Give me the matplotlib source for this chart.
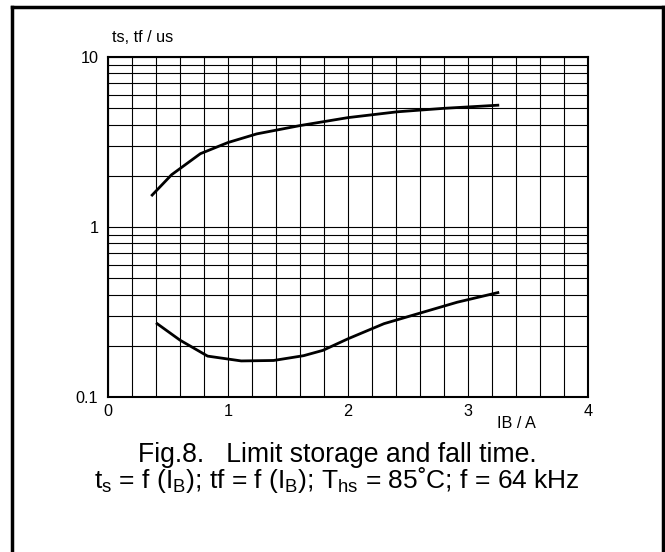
import matplotlib
matplotlib.use("Agg")
import matplotlib.pyplot as plt
from matplotlib.ticker import FixedLocator, LogLocator, NullFormatter
from matplotlib.lines import Line2D

plt.rcParams['font.family'] = ['Liberation Sans', 'DejaVu Sans']
plt.rcParams['mathtext.fontset'] = 'custom'
plt.rcParams['mathtext.rm'] = 'Liberation Sans'
plt.rcParams['mathtext.it'] = 'Liberation Sans'

# Data
ib_ts = [0.36, 0.53, 0.77, 1.0, 1.24, 1.6, 2.0, 2.41, 2.8, 3.26]
ts = [1.52, 2.03, 2.70, 3.14, 3.53, 3.95, 4.40, 4.76, 4.99, 5.21]
ib_tf = [0.40, 0.60, 0.83, 1.11, 1.38, 1.63, 1.79, 2.0, 2.30, 2.63, 2.91, 3.26]
tf = [0.273, 0.216, 0.174, 0.163, 0.164, 0.175, 0.188, 0.220, 0.270, 0.316, 0.361, 0.413]
x_ticks = [0, 1, 2, 3, 4]
x_ticklabels = ["0", "1", "2", "3", "4"]
y_ticks = [0.1, 1, 10]
y_ticklabels = ["0.1", "1", "10"]

W, H = 665, 552
fig = plt.figure(figsize=(W / 100, H / 100), dpi=100)

# outer frame
frame_kw = dict(color='black', lw=2.5, transform=fig.transFigure, clip_on=False)
fig.add_artist(Line2D([12 / W, 12 / W], [0, 1 - 7 / H], **frame_kw))
fig.add_artist(Line2D([12 / W, 663 / W], [1 - 7 / H, 1 - 7 / H], **frame_kw))
fig.add_artist(Line2D([663 / W, 663 / W], [0, 1 - 7 / H], **frame_kw))

ax = fig.add_axes([108 / W, 1 - 397 / H, 480 / W, 340 / H])
ax.set_yscale('log')
ax.set_xlim(0, 4)
ax.set_ylim(0.1, 10)

ax.xaxis.set_major_locator(FixedLocator(x_ticks))
ax.set_xticklabels(x_ticklabels)
ax.xaxis.set_minor_locator(FixedLocator([i * 0.2 for i in range(21)]))
ax.yaxis.set_major_locator(FixedLocator(y_ticks))
ax.set_yticklabels(y_ticklabels)
ax.yaxis.set_minor_locator(LogLocator(base=10, subs=range(2, 10)))
ax.yaxis.set_minor_formatter(NullFormatter())

ax.grid(which='both', color='black', lw=0.8)
ax.tick_params(which='both', length=0)
ax.tick_params(axis='x', pad=5, labelsize=11.7)
ax.tick_params(axis='y', pad=7, labelsize=11.7)
for s in ax.spines.values():
    s.set_linewidth(1.5)

ax.plot(ib_ts, ts, color='black', lw=2.0, solid_capstyle='butt')
ax.plot(ib_tf, tf, color='black', lw=2.0, solid_capstyle='butt')

fig.text(112 / W, 1 - 38 / H, "ts, tf / us", fontsize=11.7, va='center', ha='left')
fig.text(516 / W, 1 - 423 / H, "IB / A", fontsize=11.7, va='center', ha='center')

fig.text(337.5 / W, 1 - 461.5 / H, "Fig.8.   Limit storage and fall time.",
         fontsize=19.2, ha='center', va='baseline')
fig.text(336.5 / W, 1 - 488 / H,
         r"t$_\mathregular{s}$ = f (I$_\mathregular{B}$); tf = f (I$_\mathregular{B}$); "
         r"T$_\mathregular{hs}$ = 85˚C; f = 64 kHz",
         fontsize=19.0, ha='center', va='baseline')

fig.savefig("out.png", dpi=100)
